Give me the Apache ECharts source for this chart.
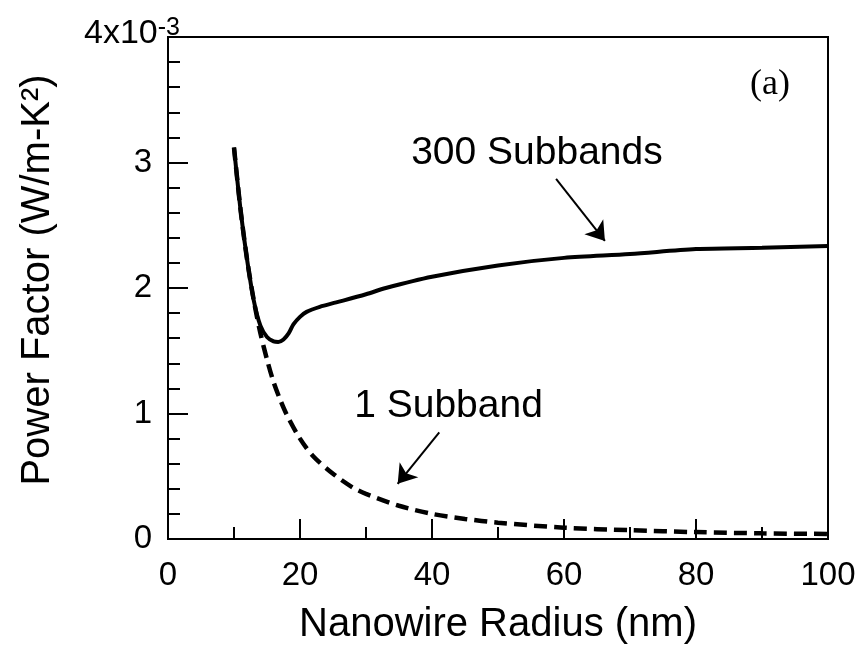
<!DOCTYPE html>
<html lang="en">
<head>
    <meta charset="UTF-8">
    <title>Power Factor vs Nanowire Radius</title>
    <script src="https://cdn.jsdelivr.net/npm/echarts@6/dist/echarts.min.js"></script>
    <style>
        html,body{margin:0;padding:0;background:#fff;}
    </style>
</head>
<body>
    <div id="chart1" style="width:859px;height:650px;"></div>
    <script>
        // 300 subbands (solid)
        var radius300=[10,11,12,13,14,15,16,16.7,17.5,18.3,19,20,21,23,25.5,30,33,40,50,60,70,80,90,100]
        var pf300=[3.12,2.62,2.22,1.90,1.70,1.61,1.575,1.57,1.59,1.64,1.71,1.77,1.81,1.85,1.885,1.95,2.0,2.09,2.18,2.24,2.27,2.31,2.32,2.335]
        // 1 subband (dashed)
        var radius1=[10,11,12,13,14,15,16,17,18,20,22,25,28,30,35,40,45,50,60,70,80,90,100]
        var pf1=[3.12,2.62,2.22,1.90,1.64,1.43,1.25,1.11,0.99,0.80,0.66,0.52,0.41,0.36,0.265,0.20,0.16,0.13,0.09,0.07,0.055,0.045,0.04]
        // annotation texts and arrows (data coords)
        var noteText=["300 Subbands","1 Subband","(a)"]
        var notePos=[[55.9,3.07],[42.5,1.06],[91.2,3.62]]
        var arrow300=[[58.8,2.87],[66.2,2.375]]
        var arrow1=[[41.1,0.85],[34.8,0.44]]

        var font="Liberation Sans, Arial, sans-serif"
        function pairs(xs,ys){
            return xs.map(function(x,i){return [x,ys[i]]})
        }
        function arrowLine(a){
            return [{coord:a[0]},{coord:a[1]}]
        }

        var myCharts=echarts.init(document.getElementById("chart1"))
        var option={
            animation:false,
            grid:{
                left:168,right:31,top:37,bottom:106,
                show:true,borderColor:"#000",borderWidth:2,backgroundColor:"transparent"
            },
            xAxis:{
                type:"value",
                min:0,max:100,interval:20,
                name:"Nanowire Radius (nm)",
                nameLocation:"middle",
                nameGap:66,
                nameTextStyle:{fontFamily:font,fontSize:40,color:"#000"},
                axisLine:{lineStyle:{color:"#000",width:2}},
                axisTick:{inside:true,length:20,lineStyle:{color:"#000",width:2}},
                minorTick:{show:true,splitNumber:2,length:12,lineStyle:{color:"#000",width:2}},
                splitLine:{show:false},
                axisLabel:{fontFamily:font,fontSize:33,color:"#000",margin:20}
            },
            yAxis:{
                type:"value",
                min:0,max:4,interval:1,
                name:"Power Factor (W/m-K²)",
                nameLocation:"middle",
                nameGap:110,
                nameTextStyle:{fontFamily:font,fontSize:40,color:"#000",padding:[0,0,0,16]},
                axisLine:{show:true,lineStyle:{color:"#000",width:2}},
                axisTick:{show:true,inside:true,length:20,lineStyle:{color:"#000",width:2}},
                minorTick:{show:true,splitNumber:5,length:12,lineStyle:{color:"#000",width:2}},
                splitLine:{show:false},
                axisLabel:{
                    fontFamily:font,fontSize:33,color:"#000",margin:-12,
                    formatter:function(v){
                        return v===4?"{e|4x10}{s|-3}":"{n|"+v+"}"
                    },
                    rich:{
                        n:{fontFamily:font,fontSize:33,color:"#000",padding:[0,28,0,0]},
                        e:{fontFamily:font,fontSize:34,color:"#000",padding:[0,0,6,0]},
                        s:{fontFamily:font,fontSize:25,color:"#000",padding:[0,0,18,0]}
                    }
                }
            },
            series:[
                {
                    name:"1 Subband",
                    type:"line",
                    data:pairs(radius1,pf1),
                    showSymbol:false,
                    smooth:0.3,
                    lineStyle:{color:"#000",width:4.5,type:[13,7]},
                    z:2
                },
                {
                    name:"300 Subbands",
                    type:"line",
                    data:pairs(radius300,pf300),
                    showSymbol:false,
                    smooth:0.3,
                    lineStyle:{color:"#000",width:4},
                    z:3,
                    markLine:{
                        silent:true,
                        symbol:["none","arrow"],
                        symbolSize:18,
                        label:{show:false},
                        lineStyle:{color:"#000",width:2,type:"solid"},
                        emphasis:{disabled:true},
                        data:[arrowLine(arrow300),arrowLine(arrow1)]
                    }
                },
                {
                    name:"notes",
                    type:"scatter",
                    symbolSize:0,
                    silent:true,
                    itemStyle:{opacity:1},
                    data:notePos.map(function(p,i){return [p[0],p[1],noteText[i]]}),
                    label:{
                        show:true,
                        position:"inside",
                        color:"#000",
                        opacity:1,
                        fontFamily:font,
                        fontSize:39,
                        formatter:function(p){
                            if(p.data[2]==="(a)"){
                                return "{a|(a)}"
                            }
                            return p.data[2]
                        },
                        rich:{
                            a:{fontFamily:"Liberation Serif, Times New Roman, serif",fontSize:36,color:"#000"}
                        }
                    }
                }
            ]
        }
        myCharts.setOption(option)
    </script>
</body>
</html>
